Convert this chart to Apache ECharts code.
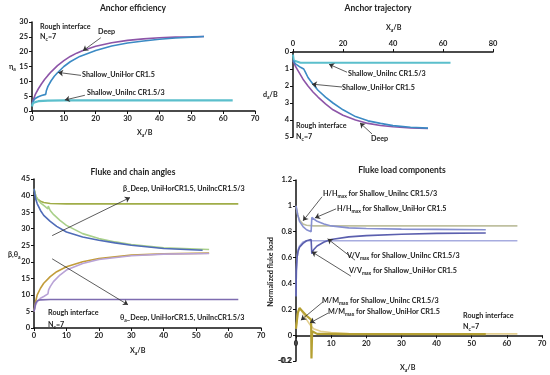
<!DOCTYPE html>
<html><head><meta charset="utf-8">
<script src="https://cdn.jsdelivr.net/npm/echarts@6/dist/echarts.min.js"></script>
<style>html,body{margin:0;padding:0;background:#fff}#c{width:550px;height:375px}</style>
</head><body><div id="c"></div>
<script>
// ---------- Anchor efficiency ----------
const effDeepX = [0,0.5,1,2,3,4,5,6,8,10,12,14,16,20,25,30,35,40,45,50,54];
const effDeepY = [2.5,4,5.5,7.5,9.2,10.7,12,13.2,15.3,17,18.4,19.5,20.4,21.8,23,23.8,24.3,24.7,24.9,25,25.1];
const effHorX = [0,0.5,1,2,3,4.3,4.5,5,6,7,8,10,12,15,20,25,30,35,40,45,50,54];
const effHorY = [2,3.5,4.2,4.8,5.2,5.6,6.8,8.3,10.2,11.7,12.9,15,16.6,18.4,20.4,21.9,22.9,23.6,24.2,24.6,24.9,25.1];
const effIncX = [0,0.3,1,2,5,10,63];
const effIncY = [1.5,2.6,3.0,3.3,3.5,3.6,3.6];
// ---------- Anchor trajectory ----------
const trajIncX = [0,0.3,1,3,63];
const trajIncY = [0.15,0.5,0.6,0.63,0.63];
const trajDeepX = [0,1,2,4,6,8,10,13,16,20,25,30,35,40,47,54];
const trajDeepY = [0.5,0.85,1.1,1.6,2.0,2.35,2.65,3.05,3.4,3.72,4.0,4.2,4.32,4.4,4.47,4.5];
const trajHorX = [0,1,2,3,4.3,5,6,8,10,13,16,20,25,30,35,40,47,54];
const trajHorY = [0.5,0.7,0.8,0.9,1.0,1.2,1.5,1.9,2.25,2.65,3.0,3.4,3.8,4.05,4.2,4.33,4.43,4.48];
// ---------- Fluke and chain angles ----------
const betaDeepX = [0,0.5,1,2,3,5,7,10,15,20,25,30,40,52];
const betaDeepY = [42,39,37.5,35.5,34,32.2,30.7,29,27.5,26.5,25.7,25,24,23.5];
const betaHorX = [0,0.5,1,2,3,4.3,4.4,4.6,5,6,8,10,15,20,25,30,40,54];
const betaHorY = [42,40,39,37.8,37,36,36.8,36.5,35.5,34.3,32.5,31,28.5,27,26,25.2,24.2,23.7];
const betaIncX = [0,0.5,1,2,3,5,10,63];
const betaIncY = [42,40,39,38.3,37.9,37.6,37.5,37.5];
const thetaDeepX = [0,0.5,1,2,3,5,7,10,15,20,30,40,54];
const thetaDeepY = [5,8,10,12,13.5,15.5,17,18.5,20,21,22,22.4,22.6];
const thetaHorX = [0,0.5,1,2,3,4.3,4.5,5,6,8,10,15,20,30,40,54];
const thetaHorY = [5,7,8,9,9.5,10.3,11.5,12.5,14,16,17.5,19.5,20.7,21.8,22.3,22.5];
const thetaIncX = [0,0.5,1,2,5,63];
const thetaIncY = [5,7.5,8.2,8.5,8.6,8.6];
// ---------- Fluke load components ----------
const hIncX = [0,0.5,1,2,3,5,63];
const hIncY = [1.0,0.93,0.89,0.86,0.85,0.845,0.845];
const hHorX = [0,0.5,1,2,3,4.3,4.5,5,6,8,10,15,20,30,40,54];
const hHorY = [1.0,0.93,0.88,0.84,0.815,0.8,0.91,0.9,0.88,0.86,0.845,0.83,0.825,0.82,0.818,0.815];
const vIncX = [0,0.1,0.3,0.6,1,2,3,63];
const vIncY = [0.3,0.5,0.6,0.66,0.69,0.72,0.73,0.73];
const vHorX = [0,0.1,0.3,0.6,1,2,3,4.3,4.5,5,6,8,10,15,20,30,40,54];
const vHorY = [0.3,0.5,0.6,0.65,0.68,0.71,0.73,0.74,0.63,0.66,0.69,0.72,0.74,0.76,0.77,0.78,0.787,0.79];
const mIncX = [0,0.5,1,1.5,2,3,4,5,7,10,15,20,63];
const mIncY = [0.05,0.17,0.21,0.2,0.17,0.12,0.08,0.05,0.03,0.02,0.012,0.01,0.01];
const mHorX = [0,0.5,1,1.5,2,3,4.3,4.4,4.6,5,6,8,10,15,20,54];
const mHorY = [0.05,0.17,0.21,0.2,0.18,0.15,0.12,-0.18,0.03,0.02,0.01,0.01,0.01,0.008,0.008,0.008];
// ---------- tick settings ----------
const effYTicks = {min:0, max:30, interval:5};
const effXTicks = {min:0, max:70, interval:10};
const trajYTicks = {min:0, max:5, interval:1};
const trajXTicks = {min:0, max:80, interval:20};
const angYTicks = {min:0, max:45, interval:5};
const angXTicks = {min:0, max:70, interval:10};
const loadYTicks = {min:-0.2, max:1.2, interval:0.2};
const loadXTicks = {min:0, max:70, interval:10};
const loadZeroYRange = {min:0, max:1.2};
const loadMinLabel = '-0.2';

const FONT = 'Lato, "Open Sans", sans-serif';
const pair = (xs, ys) => xs.map((x, i) => [x, ys[i]]);
const chart = echarts.init(document.getElementById('c'), null, {renderer:'canvas'});

function axisCommon(t) {
  return Object.assign({
    type:'value',
    splitLine:{show:false},
    axisLine:{show:true, onZero:false, lineStyle:{color:'#111', width:1.5}},
    axisTick:{show:true, length:3, lineStyle:{color:'#111', width:1}},
    axisLabel:{color:'#222', fontFamily:FONT, fontWeight:'bold', fontSize:7.5, margin:4, showMinLabel:true, showMaxLabel:true}
  }, t);
}
function line(name, gi, xs, ys, color, w) {
  return {name, type:'line', xAxisIndex:gi, yAxisIndex:gi, data:pair(xs, ys),
    symbol:'none', smooth:false, lineStyle:{color, width:w||1.6}, itemStyle:{color}, silent:true, animation:false};
}
function arrows(list) {
  return {silent:true, animation:false, symbol:['none','arrow'], symbolSize:5,
    label:{show:false}, emphasis:{disabled:true},
    lineStyle:{color:'#333', width:0.8, type:'solid'},
    data:list.map(a => [{coord:a[0]}, {coord:a[1]}])};
}
const rich = {
  m:{fontFamily:FONT, fontWeight:'bold', fontSize:7.2, fill:'#222', lineHeight:10},
  s:{fontFamily:FONT, fontWeight:'bold', fontSize:5, fill:'#222', lineHeight:6, verticalAlign:'bottom'},
  t:{fontFamily:FONT, fontWeight:'bold', fontSize:8.5, fill:'#222', lineHeight:11}
};
function txt(x, y, text, align, rot) {
  return {type:'text', x, y, rotation:rot||0, silent:true,
    style:{text, rich, textAlign:align||'left', textVerticalAlign:'middle',
      fontFamily:FONT, fontWeight:'bold', fontSize:7.2, fill:'#222'}};
}
const S = (a, b, c) => `{m|${a}}{s|${b}}{m|${c||''}}`;

const sEffDeep = line('Deep', 0, effDeepX, effDeepY, '#8d55a8', 1.6);
sEffDeep.markLine = arrows([[[21.6,24.7],[16,20.3]], [[15.4,12],[8.2,13]], [[16.6,5.3],[10.3,3.7]]]);
const sTrajDeep = line('Deep', 1, trajDeepX, trajDeepY, '#8d55a8', 1.6);
sTrajDeep.markLine = arrows([[[21.6,1.19],[14.4,0.72]], [[19.6,2.06],[7.6,1.89]], [[31.6,4.82],[26.8,4.17]]]);
const sBetaDeep = line('betaDeep', 2, betaDeepX, betaDeepY, '#4f6cb8', 1.6);
sBetaDeep.markLine = arrows([[[5.6,27.9],[29.6,39.4]], [[5.6,20.9],[29,7.0]]]);
const sHInc = line('hInc', 3, hIncX, hIncY, '#bfc0a0', 1.6);
sHInc.markLine = arrows([[[7.4,1.07],[2,0.884]], [[11.4,0.977],[5.4,0.907]], [[16.8,0.58],[9,0.745]],
  [[15.6,0.457],[4.5,0.645]], [[7.7,0.258],[1.4,0.116]], [[9.1,0.17],[4,0.095]]]);

const option = {
  animation:false,
  grid:[
    {left:32, top:22, width:223, height:89},
    {left:293, top:52, width:200, height:85},
    {left:34, top:179, width:227, height:149},
    {left:296, top:180, width:246, height:181},
    // zero-line axis for the fluke load panel (y from 0 upward)
    {left:296, top:180, width:246, height:155.3}
  ],
  xAxis:[
    axisCommon(Object.assign({gridIndex:0}, effXTicks)),
    axisCommon(Object.assign({gridIndex:1, position:'top'}, trajXTicks)),
    axisCommon(Object.assign({gridIndex:2}, angXTicks)),
    axisCommon(Object.assign({gridIndex:3, show:false}, loadXTicks)),
    axisCommon(Object.assign({gridIndex:4}, loadXTicks))
  ],
  yAxis:[
    axisCommon(Object.assign({gridIndex:0}, effYTicks)),
    axisCommon(Object.assign({gridIndex:1, inverse:true}, trajYTicks)),
    axisCommon(Object.assign({gridIndex:2}, angYTicks)),
    axisCommon(Object.assign({gridIndex:3}, loadYTicks)),
    axisCommon(Object.assign({gridIndex:4, show:false}, loadZeroYRange))
  ],
  series:[
    sEffDeep,
    line('UniHor', 0, effHorX, effHorY, '#3b8ac4', 1.6),
    line('UniInc', 0, effIncX, effIncY, '#5bbfcc', 2.2),
    line('UniInc', 1, trajIncX, trajIncY, '#5bbfcc', 2),
    sTrajDeep,
    line('UniHor', 1, trajHorX, trajHorY, '#3b8ac4', 1.6),
    line('betaInc', 2, betaIncX, betaIncY, '#a0ad48', 1.6),
    line('betaHor', 2, betaHorX, betaHorY, '#a9d08a', 1.6),
    sBetaDeep,
    line('thetaDeep', 2, thetaDeepX, thetaDeepY, '#c29c3a', 1.6),
    line('thetaHor', 2, thetaHorX, thetaHorY, '#b9a3d6', 1.6),
    line('thetaInc', 2, thetaIncX, thetaIncY, '#7e6cb0', 1.6),
    sHInc,
    line('hHor', 3, hHorX, hHorY, '#8790d0', 1.6),
    line('vInc', 3, vIncX, vIncY, '#a7acdf', 1.6),
    line('vHor', 3, vHorX, vHorY, '#5b5fae', 1.6),
    line('mInc', 3, mIncX, mIncY, '#e3cf90', 1.6),
    line('mHor', 3, mHorX, mHorY, '#b5a032', 2.2)
  ],
  graphic:[
    txt(133, 8, '{t|Anchor efficiency}', 'center'),
    txt(40, 27, 'Rough interface'),
    txt(40, 37, S('N','c','=7')),
    txt(98, 32, 'Deep'),
    txt(82, 75, 'Shallow_UniHor CR1.5'),
    txt(87, 93, 'Shallow_UniInc CR1.5/3'),
    txt(9, 67, S('η','a','')),
    txt(137, 133, S('X','a','/B')),

    txt(378, 8, '{t|Anchor trajectory}', 'center'),
    txt(386, 28, S('X','a','/B')),
    txt(263, 95, S('d','a','/B')),
    txt(348, 74, 'Shallow_UniInc CR1.5/3'),
    txt(342, 88, 'Shallow_UniHor CR1.5'),
    txt(296, 126, 'Rough interface'),
    txt(296, 137, S('N','c','=7')),
    txt(371, 139, 'Deep'),

    txt(133, 172, '{t|Fluke and chain angles}', 'center'),
    txt(123, 189, 'β_Deep, UniHorCR1.5, UniIncCR1.5/3'),
    txt(120, 318, S('θ','a','_Deep, UniHorCR1.5, UniIncCR1.5/3')),
    txt(48, 313, 'Rough interface'),
    txt(48, 325, S('N','c','=7')),
    txt(8, 255, S('β,θ','a','')),
    txt(130, 351, S('X','a','/B')),

    txt(402, 170, '{t|Fluke load components}', 'center'),
    txt(323, 194, S('H/H','max',' for Shallow_UniInc CR1.5/3')),
    txt(337, 209, S('H/H','max',' for Shallow_UniHor CR1.5')),
    txt(347, 256, S('V/V','max',' for Shallow_UniInc CR1.5/3')),
    txt(349, 271, S('V/V','max',' for Shallow_UniHor CR1.5')),
    txt(322, 301, S('M/M','max',' for Shallow_UniInc CR1.5/3')),
    txt(328, 312, S('M/M','max',' for Shallow_UniHor CR1.5')),
    txt(463, 316, 'Rough interface'),
    txt(463, 327, S('N','c','=7')),
    txt(271, 272, 'Normalized fluke load', 'center', Math.PI/2),
    txt(400, 368, S('X','a','/B')),
    {type:'text', x:291, y:361, z:100, silent:true,
      style:{text:loadMinLabel, textAlign:'right', textVerticalAlign:'middle',
        fontFamily:FONT, fontWeight:'bold', fontSize:7.5, fill:'#222'}}
  ]
};
chart.setOption(option);
</script></body></html>
